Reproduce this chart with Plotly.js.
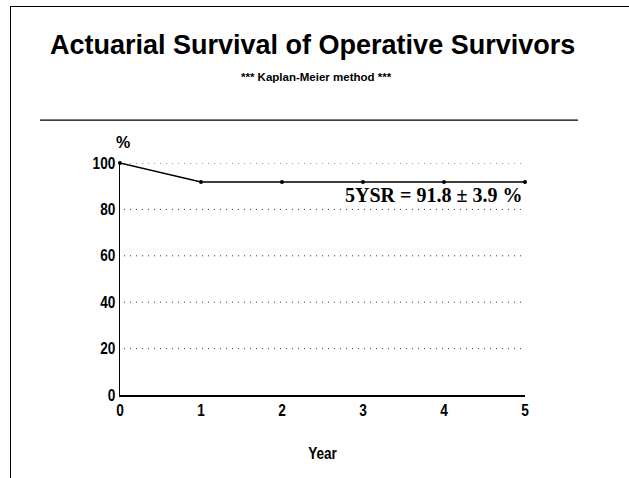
<!DOCTYPE html>
<html>
<head>
<meta charset="utf-8">
<script src="https://cdn.plot.ly/plotly-3.0.1.min.js"></script>
<style>html,body{margin:0;padding:0;background:#fff;}#chart{width:629px;height:478px;}</style>
</head>
<body>
<div id="chart"></div>
<script>
var years = [0, 1, 2, 3, 4, 5];
var survival = [100, 91.8, 91.8, 91.8, 91.8, 91.8];
var xTicks = [0, 1, 2, 3, 4, 5];
var yTicks = [0, 20, 40, 60, 80, 100];
var gridLevels = [20, 40, 60, 80, 100];
var titleText = "Actuarial Survival of Operative Survivors";
var subtitleText = "*** Kaplan-Meier method ***";
var noteText = "5YSR = 91.8 \u00b1 3.9 %";

var sans = "'Liberation Sans Narrow', 'Arial Narrow', 'Liberation Sans', Arial, sans-serif";

var shapes = gridLevels.map(function (v) {
  return {type: 'line', xref: 'x', yref: 'y', x0: 0.05, x1: 5, y0: v, y1: v,
          line: {color: '#333', width: 1, dash: '1px,5px'}, layer: 'below'};
});
shapes.push({type: 'line', xref: 'paper', yref: 'paper', x0: -0.1975, x1: 1.131, y0: 1.185, y1: 1.185, line: {color: '#000', width: 1.2}});

var layout = {
  width: 629, height: 478,
  margin: {l: 120, r: 104, t: 163, b: 83},
  paper_bgcolor: '#fff', plot_bgcolor: '#fff',
  showlegend: false,
  xaxis: {
    range: [0, 5], tickvals: xTicks, ticktext: xTicks.map(String),
    showgrid: false, zeroline: false, showline: true, linecolor: '#000', linewidth: 1.5,
    ticks: '', tickfont: {family: sans, size: 16, color: '#000', weight: 'bold'},
    title: {text: 'Year', font: {family: sans, size: 16, color: '#000', weight: 'bold'}, standoff: 30}
  },
  yaxis: {
    range: [0, 100], tickvals: yTicks, ticktext: yTicks.map(String),
    showgrid: false, zeroline: false, showline: true, linecolor: '#000', linewidth: 1.5,
    ticks: '', tickfont: {family: sans, size: 16, color: '#000', weight: 'bold'}
  },
  shapes: shapes,
  annotations: [
    {text: titleText, xref: 'paper', yref: 'paper', x: 0.475, y: 1.0, xanchor: 'center', yanchor: 'middle',
     yshift: 118, showarrow: false, font: {family: sans, size: 27, color: '#000', weight: 'bold'}},
    {text: subtitleText, xref: 'paper', yref: 'paper', x: 0.486, y: 1.0, xanchor: 'center', yanchor: 'middle',
     yshift: 86, showarrow: false, font: {family: sans, size: 11.5, color: '#000', weight: 'bold'}},
    {text: '%', xref: 'paper', yref: 'paper', x: 0.0, y: 1.0, xanchor: 'center', yanchor: 'middle',
     xshift: 3, yshift: 21, showarrow: false, font: {family: sans, size: 16, color: '#000', weight: 'bold'}},
    {text: noteText, xref: 'x', yref: 'y', x: 5, y: 91.8, xanchor: 'right', yanchor: 'top',
     xshift: -1, yshift: 0, showarrow: false, font: {family: "'Liberation Serif', 'Times New Roman', serif", size: 20, color: '#000', weight: 'bold'}}
  ]
};

var trace = {
  x: years, y: survival, type: 'scatter', mode: 'lines+markers',
  line: {color: '#000', width: 1.5}, marker: {color: '#000', size: 4}, cliponaxis: false
};

function condense(el, ratio) {
  var w = el.getComputedTextLength();
  el.setAttribute('textLength', (w * ratio).toFixed(1));
  el.setAttribute('lengthAdjust', 'spacingAndGlyphs');
}

Plotly.newPlot('chart', [trace], layout, {displayModeBar: false, staticPlot: true}).then(function () {
  document.querySelectorAll('#chart .xtick text, #chart .ytick text, #chart .g-xtitle text').forEach(function (t) { condense(t, 0.85); });
});
</script>
<div style="position:absolute;left:10px;top:6px;width:619px;height:472px;border-left:1px solid #000;border-top:1px solid #000;pointer-events:none;"></div>
</body>
</html>
